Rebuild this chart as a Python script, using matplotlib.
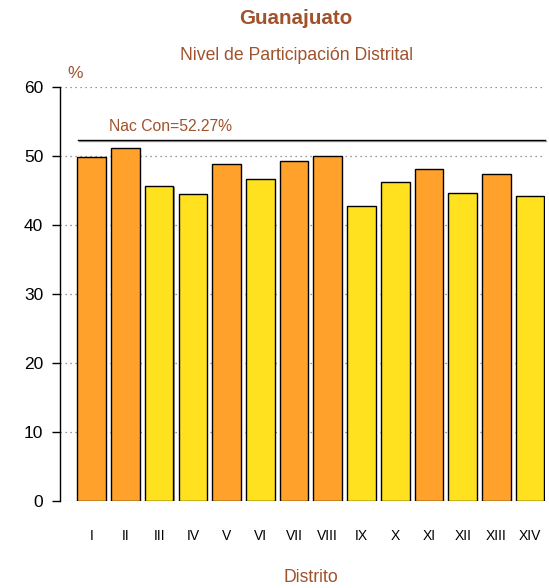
import matplotlib.pyplot as plt
import matplotlib.patheffects as pe

plt.rcParams["font.family"] = ["Liberation Sans", "DejaVu Sans"]

SIENNA = "#A0522D"
ORANGE = "#FFA12A"
YELLOW = "#FFE11F"

distritos = ["I", "II", "III", "IV", "V", "VI", "VII", "VIII", "IX", "X",
             "XI", "XII", "XIII", "XIV"]
participacion = [49.8, 51.1, 45.6, 44.5, 48.8, 46.7, 49.3, 50.0, 42.7, 46.3,
                 48.1, 44.7, 47.4, 44.2]
grupo = ["a", "a", "b", "b", "a", "b", "a", "a", "b", "b", "a", "b", "a", "b"]
nac_con = 52.27
yticks = [0, 10, 20, 30, 40, 50, 60]

W, H = 549, 588
fig = plt.figure(figsize=(W / 100, H / 100), dpi=100)
fig.patch.set_facecolor("white")

left, right, top, bottom = 60, 545, 87, 501
ax = fig.add_axes([left / W, 1 - bottom / H, (right - left) / W, (bottom - top) / H])

x = list(range(len(distritos)))
colors = [ORANGE if g == "a" else YELLOW for g in grupo]
shadow = [pe.SimplePatchShadow(offset=(0.8, -0.8), shadow_rgbFace="#777777", alpha=0.8), pe.Normal()]

for yv in yticks:
    ax.axhline(yv, color="#777777", lw=0.9, ls=(0, (1, 3)), zorder=0)

bars = ax.bar(x, participacion, width=0.85, color=colors, edgecolor="black", linewidth=1.0, zorder=2)
for b in bars:
    b.set_path_effects(shadow)

ax.set_xlim(-0.938, 13.44)
ax.set_ylim(0, 60)
ax.plot([-0.40, 13.44], [nac_con, nac_con], color="black", lw=1.0, zorder=3, clip_on=False,
        path_effects=[pe.SimpleLineShadow(offset=(0.7, -0.7), shadow_color="#888888", alpha=0.8), pe.Normal()])
ax.text(0.51, nac_con + 0.9, f"Nac Con={nac_con}%", color=SIENNA, fontsize=11.3, ha="left", va="bottom")

for s in ["top", "right", "bottom"]:
    ax.spines[s].set_visible(False)
ax.spines["left"].set_linewidth(1.0)
ax.set_yticks(yticks)
ax.tick_params(axis="y", direction="out", length=6, width=1.0, labelsize=12.5, pad=6)
ax.set_xticks(x)
ax.set_xticklabels(distritos, fontsize=10)
ax.tick_params(axis="x", length=0, pad=20)

fig.text(296 / W, 1 - 19 / H, "Guanajuato", color=SIENNA, fontsize=14.8, fontweight="bold", ha="center", va="center")
fig.text(296 / W, 1 - 55 / H, "Nivel de Participación Distrital", color=SIENNA, fontsize=12.7, ha="center", va="center")
fig.text(75 / W, 1 - 73 / H, "%", color=SIENNA, fontsize=12.5, ha="center", va="center")
fig.text(311 / W, 1 - 578 / H, "Distrito", color=SIENNA, fontsize=12.7, ha="center", va="center")

fig.savefig("out.png", dpi=100, facecolor="white")
